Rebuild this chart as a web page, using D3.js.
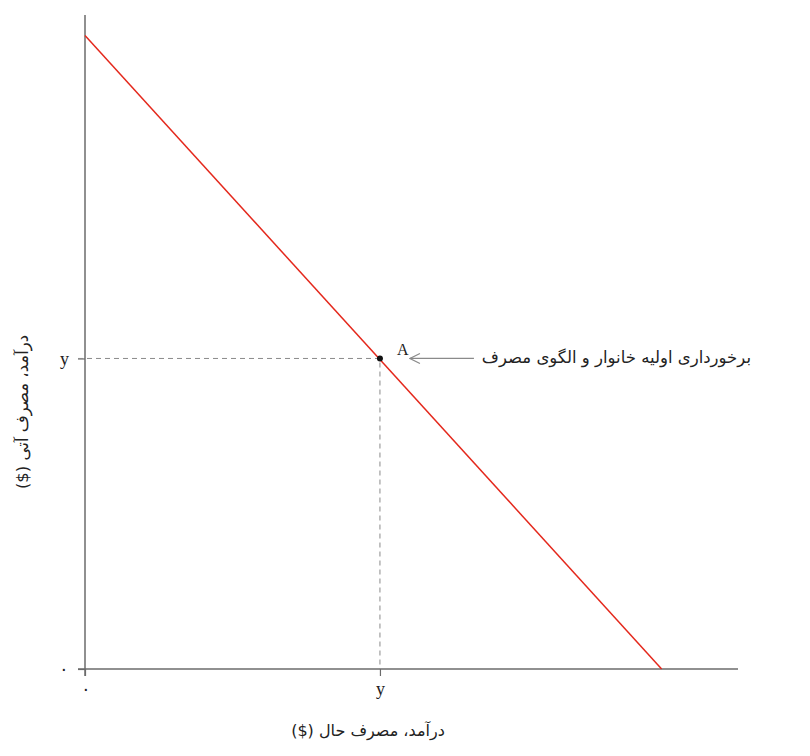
<!DOCTYPE html>
<html>
<head>
<meta charset="utf-8">
<script src="https://cdn.jsdelivr.net/npm/d3@7"></script>
<style>
  body { margin: 0; background: #fff; }
  svg { display: block; }
</style>
</head>
<body>
<div id="chart"></div>
<script>
// data
const budgetLine = [{ x: 0, y: 2.04 }, { x: 1.955, y: 0 }];
const endowment = [{ x: 1, y: 1, label: "A" }];
const xTicks = [0, 1];
const yTicks = [0, 1];
const tickLabels = { 0: "٠", 1: "y" };
const xTitle = "درآمد، مصرف حال ($)";
const yTitle = "درآمد، مصرف آتی ($)";
const note = "برخورداری اولیه خانوار و الگوی مصرف";

const width = 810;
const height = 756;
const margin = { top: 15, right: 72, bottom: 87, left: 85 };

const svg = d3.select("#chart")
  .append("svg")
  .attr("width", width)
  .attr("height", height);

const xScale = d3.scaleLinear()
  .domain([0, 2.214])
  .range([margin.left, width - margin.right]);

const yScale = d3.scaleLinear()
  .domain([0, 2.106])
  .range([height - margin.bottom, margin.top]);

const axisColor = "#6b6b6b";
const serif = "'Liberation Serif', 'DejaVu Serif', serif";
const persian = "'DejaVu Sans', 'Noto Sans', sans-serif";

// x axis
const xAxis = svg.append("g")
  .attr("transform", `translate(0,${yScale(0)})`)
  .call(d3.axisBottom(xScale).tickValues(xTicks).tickSize(7).tickSizeOuter(0).tickFormat(d => tickLabels[d]));
xAxis.select(".domain").attr("stroke", axisColor).attr("stroke-width", 1.5)
  .attr("d", `M${xScale(0) - 7},0H${xScale.range()[1]}`);
xAxis.selectAll(".tick line").attr("stroke", axisColor).attr("stroke-width", 1.2);
xAxis.selectAll(".tick text")
  .attr("dy", 0).attr("y", 26)
  .style("font-family", serif).style("font-size", "18px").attr("fill", "#222");

// y axis
const yAxis = svg.append("g")
  .attr("transform", `translate(${xScale(0)},0)`)
  .call(d3.axisLeft(yScale).tickValues(yTicks).tickSize(7).tickSizeOuter(0).tickFormat(d => tickLabels[d]));
yAxis.select(".domain").attr("stroke", axisColor).attr("stroke-width", 1.5)
  .attr("d", `M0,${yScale(0) + 7}V${yScale.range()[1]}`);
yAxis.selectAll(".tick line").attr("stroke", axisColor).attr("stroke-width", 1.2);
yAxis.selectAll(".tick text")
  .attr("x", -16).attr("dy", "0.32em")
  .style("font-family", serif).style("font-size", "18px").attr("fill", "#222");

// guide lines to A
endowment.forEach(p => {
  svg.append("path")
    .attr("d", `M${xScale(0) - 7},${yScale(p.y)}H${xScale(p.x)}V${yScale(0)}`)
    .attr("fill", "none")
    .attr("stroke", "#8a8a8a")
    .attr("stroke-width", 1)
    .attr("stroke-dasharray", "5,4");
});

// budget line
const line = d3.line().x(d => xScale(d.x)).y(d => yScale(d.y));
svg.append("path")
  .datum(budgetLine)
  .attr("d", line)
  .attr("fill", "none")
  .attr("stroke", "#e4281c")
  .attr("stroke-width", 1.5);

// point A
svg.selectAll(".pt")
  .data(endowment)
  .enter()
  .append("circle")
  .attr("class", "pt")
  .attr("cx", d => xScale(d.x))
  .attr("cy", d => yScale(d.y))
  .attr("r", 3)
  .attr("fill", "#111");

svg.selectAll(".ptlabel")
  .data(endowment)
  .enter()
  .append("text")
  .attr("x", d => xScale(d.x) + 17)
  .attr("y", d => yScale(d.y) - 3)
  .style("font-family", serif)
  .style("font-size", "16px")
  .attr("fill", "#222")
  .text(d => d.label);

// arrow annotation
svg.append("defs").append("marker")
  .attr("id", "arrow")
  .attr("viewBox", "0 0 12 12")
  .attr("refX", 11).attr("refY", 6)
  .attr("markerWidth", 12).attr("markerHeight", 12)
  .attr("markerUnits", "userSpaceOnUse")
  .attr("orient", "auto")
  .append("path")
  .attr("d", "M1,1L11,6L1,11")
  .attr("fill", "none")
  .attr("stroke", "#8a8a8a")
  .attr("stroke-width", 1.2);

const ax = xScale(endowment[0].x), ay = yScale(endowment[0].y);
svg.append("line")
  .attr("x1", ax + 94).attr("y1", ay)
  .attr("x2", ax + 30).attr("y2", ay)
  .attr("stroke", "#8a8a8a")
  .attr("stroke-width", 1.2)
  .attr("marker-end", "url(#arrow)");

svg.append("text")
  .attr("x", 751)
  .attr("y", ay + 5)
  .attr("text-anchor", "start")
  .attr("direction", "rtl")
  .style("font-family", persian)
  .style("font-size", "16.5px")
  .attr("fill", "#222")
  .text(note);

// axis titles
svg.append("text")
  .attr("x", 368)
  .attr("y", 736)
  .attr("text-anchor", "middle")
  .attr("direction", "rtl")
  .style("font-family", persian)
  .style("font-size", "16px")
  .attr("fill", "#222")
  .text(xTitle);

svg.append("text")
  .attr("transform", `translate(28,412) rotate(-90)`)
  .attr("text-anchor", "middle")
  .attr("direction", "rtl")
  .style("font-family", persian)
  .style("font-size", "16.5px")
  .attr("fill", "#222")
  .text(yTitle);
</script>
</body>
</html>
